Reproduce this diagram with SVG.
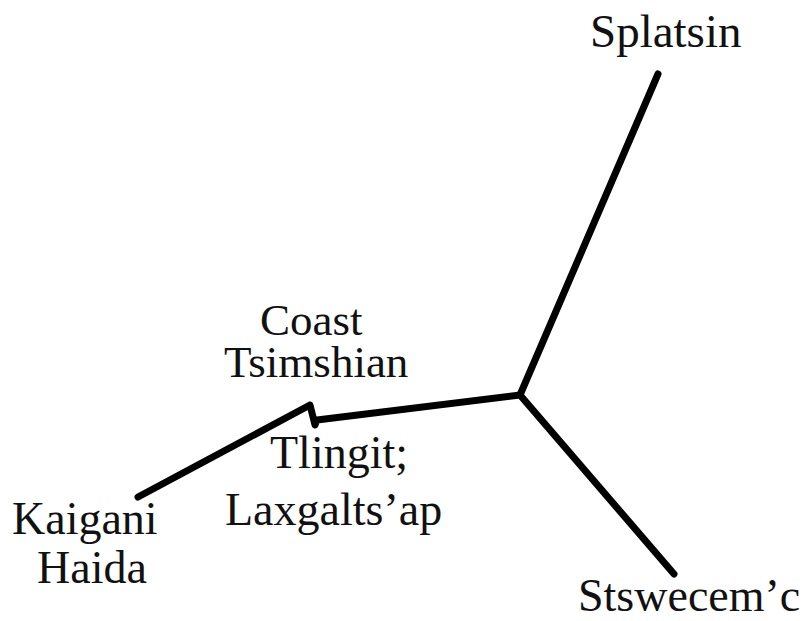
<svg xmlns="http://www.w3.org/2000/svg" width="810" height="621" viewBox="0 0 810 621">
  <style>
    .lbl { font-family: "Liberation Serif", "Times New Roman", serif; font-size: 46px; fill: #111; }
    .sm { font-size: 45px; }
    .edge { fill: none; stroke: #000; stroke-width: 7; stroke-linecap: round; stroke-linejoin: round; }
  </style>
  <rect width="810" height="621" fill="#fff"/>

  <!-- unrooted tree branches -->
  <g id="edges">
    <line class="edge" x1="520" y1="395" x2="658" y2="74"/>
    <line class="edge" x1="520" y1="395" x2="674" y2="574"/>
    <polyline class="edge" points="520,395 317,420 315,425 310,405 138,497"/>
  </g>

  <g id="splatsin">
    <text class="lbl" x="590" y="47" style="font-size:47px">Splatsin</text>
  </g>
  <g id="coast-tsimshian">
    <text class="lbl sm" x="260" y="335">Coast</text>
    <text class="lbl sm" x="224" y="377">Tsimshian</text>
  </g>
  <g id="tlingit-laxgaltsap">
    <text class="lbl" x="270" y="468">Tlingit;</text>
    <text class="lbl" x="225" y="525">Laxgalts’ap</text>
  </g>
  <g id="kaigani-haida">
    <text class="lbl" x="12" y="534">Kaigani</text>
    <text class="lbl" x="37" y="583">Haida</text>
  </g>
  <g id="stswecemc">
    <text class="lbl" x="578" y="611">Stswecem’c</text>
  </g>
</svg>
